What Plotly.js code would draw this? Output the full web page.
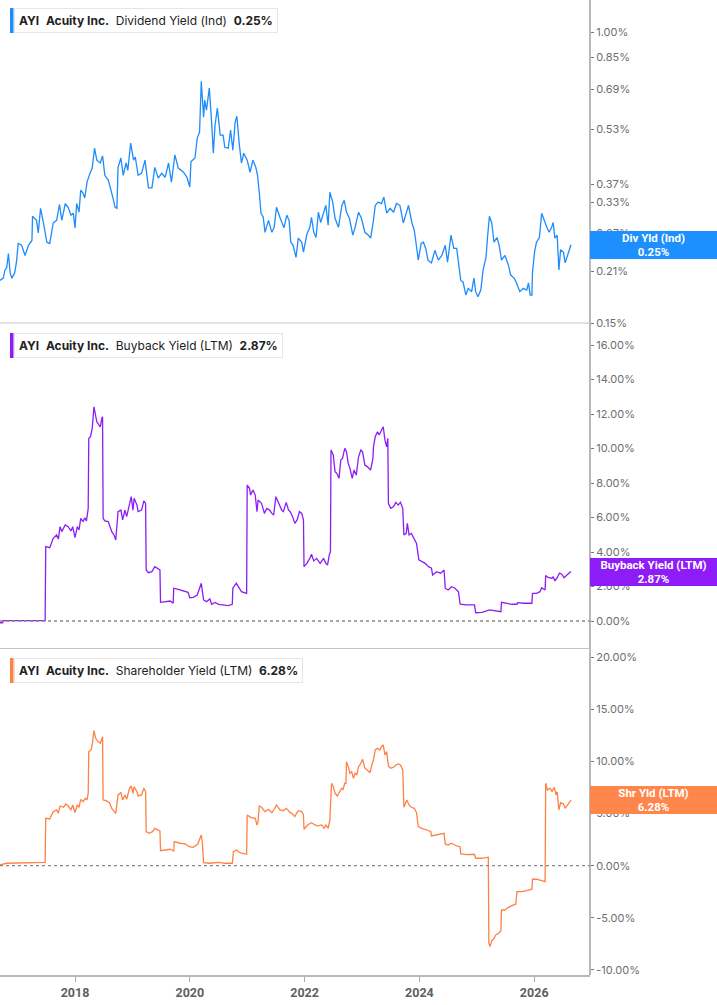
<!DOCTYPE html>
<html>
<head>
<meta charset="utf-8">
<script src="https://cdn.plot.ly/plotly-3.0.1.min.js"></script>
<style>
html,body{margin:0;padding:0;background:#fff;}
#chart{width:717px;height:1005px;}
</style>
</head>
<body>
<div id="chart"></div>
<script>
// ---- Data (percent values) ----
const ticker = "AYI";
const company = "Acuity Inc.";

const divDates = [2016.69,2016.75,2016.78,2016.81,2016.84,2016.87,2016.90,2016.95,2016.98,2017.01,2017.07,2017.13,2017.19,2017.25,2017.26,2017.33,2017.36,2017.40,2017.45,2017.51,2017.56,2017.62,2017.68,2017.73,2017.77,2017.83,2017.88,2017.93,2017.97,2018.00,2018.03,2018.07,2018.10,2018.14,2018.17,2018.21,2018.26,2018.30,2018.34,2018.38,2018.44,2018.48,2018.52,2018.58,2018.64,2018.70,2018.73,2018.75,2018.80,2018.84,2018.89,2018.92,2018.97,2019.02,2019.05,2019.10,2019.16,2019.22,2019.28,2019.34,2019.39,2019.45,2019.51,2019.57,2019.63,2019.68,2019.74,2019.80,2019.89,2019.95,2020.00,2020.02,2020.09,2020.13,2020.17,2020.20,2020.24,2020.26,2020.29,2020.34,2020.38,2020.41,2020.44,2020.48,2020.53,2020.58,2020.61,2020.67,2020.71,2020.75,2020.79,2020.82,2020.86,2020.90,2020.94,2021.00,2021.05,2021.10,2021.15,2021.18,2021.21,2021.24,2021.28,2021.31,2021.37,2021.43,2021.47,2021.51,2021.57,2021.64,2021.69,2021.73,2021.76,2021.80,2021.85,2021.89,2021.95,2021.98,2022.04,2022.09,2022.12,2022.16,2022.20,2022.24,2022.28,2022.33,2022.37,2022.41,2022.44,2022.49,2022.53,2022.59,2022.65,2022.69,2022.73,2022.78,2022.84,2022.88,2022.94,2022.99,2023.05,2023.11,2023.15,2023.20,2023.23,2023.28,2023.34,2023.38,2023.43,2023.49,2023.55,2023.60,2023.66,2023.72,2023.77,2023.81,2023.87,2023.91,2023.94,2023.98,2024.03,2024.07,2024.11,2024.15,2024.21,2024.27,2024.33,2024.39,2024.45,2024.49,2024.55,2024.60,2024.65,2024.68,2024.72,2024.76,2024.81,2024.85,2024.91,2024.95,2024.98,2025.02,2025.07,2025.11,2025.16,2025.19,2025.22,2025.26,2025.30,2025.35,2025.39,2025.43,2025.49,2025.55,2025.59,2025.65,2025.69,2025.75,2025.81,2025.87,2025.90,2025.93,2025.96,2025.97,2026.01,2026.04,2026.09,2026.13,2026.17,2026.22,2026.26,2026.30,2026.33,2026.36,2026.40,2026.43,2026.46,2026.51,2026.54,2026.58,2026.64];
const divYield = [0.198,0.201,0.212,0.215,0.236,0.208,0.201,0.208,0.223,0.252,0.249,0.233,0.249,0.257,0.301,0.293,0.270,0.317,0.288,0.254,0.252,0.288,0.293,0.325,0.293,0.327,0.319,0.303,0.307,0.279,0.327,0.309,0.357,0.350,0.339,0.376,0.398,0.412,0.469,0.434,0.426,0.446,0.393,0.381,0.350,0.319,0.317,0.414,0.440,0.393,0.426,0.406,0.485,0.434,0.443,0.393,0.398,0.434,0.362,0.362,0.414,0.386,0.398,0.388,0.426,0.376,0.449,0.412,0.401,0.388,0.364,0.429,0.440,0.501,0.521,0.726,0.574,0.642,0.601,0.694,0.556,0.454,0.545,0.609,0.511,0.511,0.472,0.469,0.528,0.463,0.556,0.578,0.485,0.426,0.454,0.434,0.401,0.434,0.414,0.393,0.352,0.307,0.299,0.271,0.293,0.271,0.280,0.319,0.299,0.279,0.303,0.293,0.254,0.249,0.230,0.261,0.254,0.238,0.268,0.279,0.299,0.271,0.262,0.309,0.289,0.309,0.323,0.284,0.352,0.330,0.297,0.280,0.323,0.334,0.309,0.297,0.266,0.280,0.309,0.297,0.271,0.266,0.261,0.293,0.323,0.330,0.327,0.341,0.307,0.317,0.309,0.327,0.323,0.288,0.309,0.323,0.288,0.275,0.254,0.226,0.252,0.254,0.244,0.226,0.222,0.241,0.226,0.233,0.249,0.223,0.266,0.244,0.244,0.222,0.198,0.196,0.180,0.188,0.184,0.201,0.184,0.178,0.186,0.212,0.230,0.266,0.301,0.288,0.254,0.262,0.249,0.226,0.233,0.219,0.205,0.201,0.195,0.184,0.188,0.186,0.195,0.180,0.180,0.209,0.241,0.254,0.262,0.307,0.293,0.280,0.271,0.279,0.289,0.261,0.266,0.212,0.242,0.238,0.222,0.232,0.250];

const buyDates = [2016.69,2016.74,2016.75,2017.48,2017.49,2017.56,2017.62,2017.68,2017.71,2017.74,2017.77,2017.83,2017.88,2017.93,2017.96,2018.00,2018.04,2018.07,2018.10,2018.14,2018.17,2018.20,2018.23,2018.24,2018.27,2018.30,2018.33,2018.35,2018.38,2018.41,2018.44,2018.47,2018.48,2018.49,2018.52,2018.58,2018.64,2018.68,2018.71,2018.75,2018.80,2018.83,2018.87,2018.90,2018.95,2018.98,2019.01,2019.03,2019.08,2019.10,2019.16,2019.20,2019.23,2019.24,2019.28,2019.34,2019.39,2019.45,2019.48,2019.49,2019.57,2019.66,2019.71,2019.72,2019.80,2019.89,2019.97,2020.00,2020.06,2020.13,2020.17,2020.20,2020.22,2020.24,2020.29,2020.35,2020.38,2020.44,2020.50,2020.58,2020.67,2020.74,2020.75,2020.81,2020.85,2020.90,2020.99,2021.00,2021.04,2021.06,2021.10,2021.14,2021.17,2021.19,2021.25,2021.30,2021.34,2021.39,2021.43,2021.46,2021.50,2021.54,2021.60,2021.63,2021.68,2021.72,2021.75,2021.79,2021.83,2021.87,2021.91,2021.95,2021.98,2021.99,2022.04,2022.09,2022.12,2022.16,2022.21,2022.27,2022.33,2022.37,2022.40,2022.43,2022.45,2022.46,2022.50,2022.53,2022.56,2022.60,2022.63,2022.66,2022.70,2022.73,2022.76,2022.79,2022.83,2022.86,2022.90,2022.94,2022.98,2023.01,2023.05,2023.09,2023.13,2023.15,2023.19,2023.20,2023.23,2023.27,2023.30,2023.34,2023.37,2023.40,2023.43,2023.45,2023.46,2023.50,2023.55,2023.59,2023.63,2023.67,2023.71,2023.73,2023.77,2023.79,2023.82,2023.86,2023.91,2023.95,2023.99,2024.04,2024.10,2024.16,2024.21,2024.23,2024.30,2024.37,2024.43,2024.45,2024.50,2024.56,2024.62,2024.68,2024.71,2024.82,2024.96,2024.98,2025.09,2025.22,2025.32,2025.42,2025.43,2025.52,2025.61,2025.70,2025.71,2025.81,2025.96,2025.97,2026.04,2026.10,2026.13,2026.19,2026.20,2026.25,2026.31,2026.33,2026.36,2026.40,2026.44,2026.48,2026.52,2026.57,2026.64];
const buyYield = [-0.10,-0.10,0.02,0.03,4.31,4.25,4.79,4.99,4.75,5.47,5.18,5.57,5.47,5.22,5.47,4.83,5.47,5.28,5.95,5.76,5.99,5.80,6.53,10.59,10.69,11.17,12.42,12.04,11.55,11.40,11.26,11.79,11.84,5.95,5.80,5.76,5.18,4.99,4.70,6.34,6.43,5.86,6.43,6.05,6.92,7.21,6.43,7.11,6.72,6.34,6.43,6.96,6.82,2.96,2.80,2.86,3.15,3.01,2.96,1.08,1.12,1.16,1.03,1.90,1.84,1.74,1.66,1.35,1.37,1.51,1.90,2.19,1.70,1.22,1.12,1.28,0.97,1.08,0.97,0.93,0.89,0.97,1.90,2.19,1.93,1.70,1.60,7.88,7.69,7.30,7.59,7.30,6.34,7.01,6.82,6.24,6.53,6.43,6.24,6.14,7.21,6.92,6.43,6.34,6.88,6.43,6.34,6.05,5.66,5.86,6.34,6.24,5.86,3.15,3.34,3.63,3.87,3.48,3.63,3.34,3.63,3.34,3.25,3.83,4.02,9.91,9.62,8.66,8.56,8.27,9.33,9.43,10.01,9.81,9.14,8.85,8.27,8.75,8.46,9.52,9.91,9.81,9.04,8.95,8.85,8.75,9.43,10.10,10.68,10.97,10.78,11.07,11.26,10.49,10.10,10.59,6.82,6.53,6.63,6.88,6.72,6.88,6.53,4.99,5.08,5.66,4.99,5.08,4.70,4.50,3.54,3.44,3.34,3.15,3.06,2.67,2.86,2.77,2.96,1.90,1.80,1.99,1.90,1.70,0.97,0.93,0.93,0.48,0.50,0.64,0.58,0.54,1.08,1.03,0.97,0.97,1.06,1.03,1.03,1.60,1.60,1.70,1.93,1.80,2.63,2.51,2.48,2.57,2.32,2.51,2.77,2.71,2.51,2.67,2.87];

const shrDates = [2016.69,2016.74,2016.81,2017.48,2017.49,2017.56,2017.62,2017.68,2017.71,2017.74,2017.80,2017.84,2017.88,2017.93,2017.96,2018.00,2018.04,2018.07,2018.10,2018.14,2018.18,2018.21,2018.23,2018.24,2018.28,2018.30,2018.33,2018.36,2018.40,2018.44,2018.47,2018.48,2018.49,2018.54,2018.60,2018.64,2018.71,2018.75,2018.80,2018.83,2018.87,2018.90,2018.95,2018.98,2019.01,2019.03,2019.08,2019.10,2019.16,2019.20,2019.23,2019.24,2019.29,2019.35,2019.39,2019.45,2019.48,2019.49,2019.57,2019.66,2019.72,2019.73,2019.83,2019.92,2019.99,2020.06,2020.14,2020.18,2020.20,2020.22,2020.24,2020.35,2020.50,2020.61,2020.74,2020.76,2020.82,2020.87,2020.99,2021.00,2021.06,2021.14,2021.17,2021.19,2021.21,2021.25,2021.31,2021.37,2021.43,2021.47,2021.51,2021.57,2021.63,2021.68,2021.75,2021.79,2021.83,2021.86,2021.89,2021.95,2021.98,2021.99,2022.05,2022.12,2022.18,2022.23,2022.30,2022.34,2022.37,2022.41,2022.44,2022.47,2022.50,2022.53,2022.57,2022.61,2022.65,2022.67,2022.70,2022.72,2022.73,2022.76,2022.79,2022.82,2022.85,2022.88,2022.91,2022.94,2022.98,2023.01,2023.05,2023.09,2023.14,2023.17,2023.20,2023.23,2023.27,2023.31,2023.34,2023.37,2023.40,2023.43,2023.46,2023.50,2023.55,2023.59,2023.63,2023.67,2023.71,2023.73,2023.78,2023.82,2023.86,2023.91,2023.95,2023.98,2024.04,2024.13,2024.20,2024.21,2024.30,2024.39,2024.43,2024.45,2024.50,2024.56,2024.65,2024.71,2024.72,2024.82,2024.96,2024.98,2025.09,2025.20,2025.21,2025.23,2025.26,2025.30,2025.33,2025.38,2025.42,2025.43,2025.49,2025.55,2025.63,2025.68,2025.70,2025.78,2025.87,2025.96,2025.97,2026.04,2026.13,2026.19,2026.20,2026.23,2026.28,2026.31,2026.35,2026.38,2026.40,2026.43,2026.46,2026.51,2026.54,2026.58,2026.64];
const shrYield = [0.07,0.15,0.23,0.32,4.54,4.48,5.18,5.34,5.02,5.72,5.60,5.91,5.72,5.34,5.82,5.08,5.82,5.60,6.36,6.13,6.46,6.30,6.94,10.93,11.09,11.57,12.94,12.21,11.89,11.73,12.21,12.36,6.30,6.23,6.04,5.50,5.02,6.78,7.00,6.30,6.78,6.36,7.42,7.64,6.94,7.57,7.09,6.68,6.78,7.42,7.09,3.26,3.11,3.26,3.58,3.42,3.33,1.44,1.50,1.57,1.41,2.30,2.15,2.08,1.82,1.76,2.08,2.63,2.94,2.15,0.29,0.23,0.32,0.23,0.23,1.34,1.50,1.25,1.09,4.86,4.64,4.54,3.90,4.22,5.72,5.60,5.18,5.41,5.08,5.41,5.82,5.34,5.27,5.50,5.08,4.96,4.70,5.02,5.27,5.18,4.86,3.49,3.90,4.12,3.90,3.81,3.90,3.58,3.90,3.58,4.38,7.90,7.57,6.94,6.68,7.09,7.42,7.32,7.90,7.90,9.97,9.49,8.86,9.01,8.38,8.86,8.69,9.49,9.81,10.20,9.34,9.17,8.91,9.65,10.13,11.09,11.25,11.09,11.41,11.57,10.61,10.93,9.56,9.34,9.43,9.65,9.75,9.65,9.17,5.60,6.30,5.82,5.60,5.50,5.08,3.74,3.58,3.42,3.26,2.85,2.94,3.04,3.10,2.08,1.98,2.15,1.89,1.82,1.12,1.05,1.09,0.71,0.71,0.81,-7.44,-7.76,-7.19,-6.96,-6.64,-6.48,-6.23,-4.25,-4.25,-3.99,-3.77,-3.67,-2.49,-2.49,-2.40,-2.26,-1.30,-1.30,-1.44,-1.53,7.90,7.26,7.42,7.09,7.51,6.78,7.09,5.34,6.04,5.91,5.50,5.82,6.28];

const divTicks = [0.15,0.21,0.27,0.33,0.37,0.53,0.69,0.85,1.00];
const buyTicks = [0,2,4,6,8,10,12,14,16];
const shrTicks = [-10,-5,0,5,10,15,20];
const yearTicks = [2018,2020,2022,2024,2026];

const seriesNames = ["Dividend Yield (Ind)","Buyback Yield (LTM)","Shareholder Yield (LTM)"];
const shortNames = ["Div Yld (Ind)","Buyback Yield (LTM)","Shr Yld (LTM)"];

// ---- Styles ----
const colBlue = "#1e8cfa", colPurple = "#8c1ef5", colOrange = "#ff8145";
const boxBlue = "#1e8fff", boxPurple = "#8e1cf7", boxOrange = "#ff864a";
const W = 717, H = 1005, plotW = 590, plotH = 975;
const last = a => a[a.length - 1];
const fmt = v => v.toFixed(2) + "%";
const px = v => v / plotW;      // x pixel -> paper
const py = v => 1 - v / plotH;  // y pixel -> paper

const traces = [
  {x: divDates, y: divYield, xaxis: "x", yaxis: "y", type: "scatter", mode: "lines",
   line: {color: colBlue, width: 1.3}},
  {x: buyDates, y: buyYield, xaxis: "x", yaxis: "y2", type: "scatter", mode: "lines",
   line: {color: colPurple, width: 1.3}},
  {x: shrDates, y: shrYield, xaxis: "x", yaxis: "y3", type: "scatter", mode: "lines",
   line: {color: colOrange, width: 1.3}}
];

const tickFont = {family: "Inter, Roboto, sans-serif", size: 11, color: "#6e6e6e"};
const yCommon = {
  side: "right", anchor: "x", showgrid: false, zeroline: false, showline: false,
  ticks: "outside", ticklen: 3, tickwidth: 1, tickcolor: "#777", tickfont: tickFont,
  fixedrange: true
};

const sepColor = "#c4c4c4";
const shapes = [
  {type: "line", xref: "paper", yref: "paper", x0: 1, x1: 1, y0: 0, y1: 1,
   line: {color: "#b8b8b8", width: 2}},
  {type: "line", xref: "paper", yref: "paper", x0: 0, x1: 1, y0: py(323), y1: py(323),
   line: {color: sepColor, width: 1}},
  {type: "line", xref: "paper", yref: "paper", x0: 0, x1: 1, y0: py(648.5), y1: py(648.5),
   line: {color: sepColor, width: 1}},
  {type: "line", xref: "paper", yref: "y2", x0: 0, x1: 1, y0: 0, y1: 0,
   line: {color: "#888", width: 1.3, dash: "dot"}},
  {type: "line", xref: "paper", yref: "y3", x0: 0, x1: 1, y0: 0, y1: 0,
   line: {color: "#888", width: 1.3, dash: "dot"}},
  {type: "rect", xref: "paper", yref: "paper", x0: px(10), x1: px(13.5), y0: py(33), y1: py(8),
   fillcolor: colBlue, line: {width: 0}},
  {type: "rect", xref: "paper", yref: "paper", x0: px(10), x1: px(13.5), y0: py(358), y1: py(333),
   fillcolor: colPurple, line: {width: 0}},
  {type: "rect", xref: "paper", yref: "paper", x0: px(10), x1: px(13.5), y0: py(683), y1: py(658),
   fillcolor: colOrange, line: {width: 0}}
];

const sp = "\u00a0\u00a0";
function legendText(name, val) {
  return "<b>" + ticker + "</b>" + sp + "<b>" + company + "</b>" + sp + name + sp + "<b>" + fmt(val) + "</b>";
}
const legendFont = {family: "Inter, Roboto, sans-serif", size: 12, color: "#222"};
function legendAnn(name, val, topPx) {
  return {xref: "paper", yref: "paper", x: px(13.5), y: py(topPx), xanchor: "left", yanchor: "top",
    text: legendText(name, val), showarrow: false, font: legendFont, align: "left",
    bgcolor: "#ffffff", bordercolor: "#e6e6e6", borderwidth: 1, borderpad: 4};
}
const boxFont = {family: "Roboto, Inter, sans-serif", size: 11.5, color: "#ffffff"};
function valueBox(name, val, yref, yval, bg) {
  return {xref: "paper", yref: yref, x: 1, y: yval, xanchor: "left", yanchor: "middle",
    text: "<b>" + name + "<br>" + fmt(val) + "</b>", showarrow: false, font: boxFont,
    align: "center", bgcolor: bg, bordercolor: bg, borderwidth: 1, borderpad: 1,
    width: 123, height: 24};
}

const annotations = [
  legendAnn(seriesNames[0], last(divYield), 8),
  legendAnn(seriesNames[1], last(buyYield), 333),
  legendAnn(seriesNames[2], last(shrYield), 658),
  valueBox(shortNames[0], last(divYield), "y", Math.log10(last(divYield)), boxBlue),
  valueBox(shortNames[1], last(buyYield), "y2", last(buyYield), boxPurple),
  valueBox(shortNames[2], last(shrYield), "y3", last(shrYield), boxOrange)
];

const layout = {
  width: W, height: H,
  margin: {l: 0, r: W - plotW, t: 0, b: H - plotH, pad: 0},
  paper_bgcolor: "#ffffff", plot_bgcolor: "#ffffff",
  showlegend: false, hovermode: false,
  xaxis: {
    type: "linear", range: [2016.6934, 2026.972], anchor: "y3",
    tickvals: yearTicks, ticktext: yearTicks.map(String),
    showgrid: false, zeroline: false, showline: true, linecolor: "#b8b8b8", linewidth: 2,
    ticks: "outside", ticklen: 5, tickwidth: 1, tickcolor: "#aaa",
    tickfont: {family: "Roboto, Inter, sans-serif", size: 12.5, color: "#5f5f5f", weight: "bold"},
    fixedrange: true
  },
  yaxis: Object.assign({}, yCommon, {
    type: "log", domain: [py(323), 1], range: [Math.log10(0.15), Math.log10(0.15) + 323 / 353],
    tickvals: divTicks, ticktext: divTicks.map(fmt)
  }),
  yaxis2: Object.assign({}, yCommon, {
    domain: [py(648), py(325)], range: [-1.565, 17.16],
    tickvals: buyTicks, ticktext: buyTicks.map(fmt)
  }),
  yaxis3: Object.assign({}, yCommon, {
    domain: [0, py(649)], range: [-10.48, 20.77],
    tickvals: shrTicks, ticktext: shrTicks.map(fmt)
  }),
  shapes: shapes,
  annotations: annotations
};

Plotly.newPlot("chart", traces, layout, {staticPlot: true, displayModeBar: false});
</script>
</body>
</html>
